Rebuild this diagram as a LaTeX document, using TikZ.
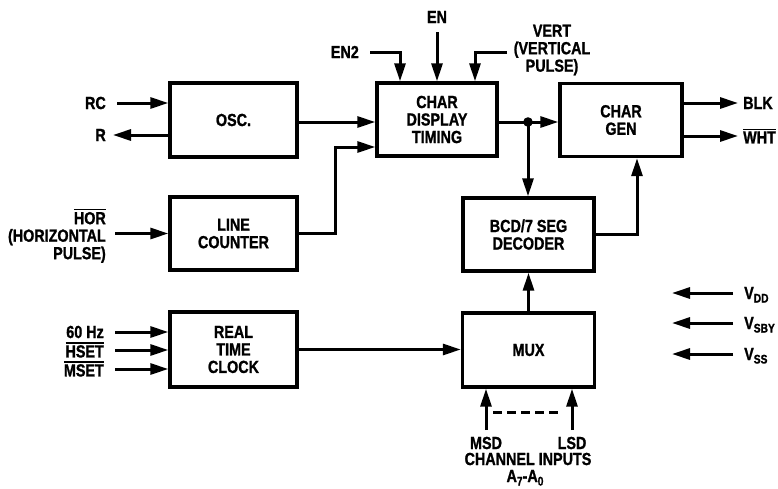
\documentclass[tikz,border=0pt]{standalone}
\usepackage{fontspec}
\newfontfamily\dfont{Liberation Sans}[FakeStretch=0.82,FakeBold=1.2]
\usetikzlibrary{arrows.meta}
\newcommand\ovl[1]{\leavevmode\setbox0\hbox{#1}\rlap{\rule[\dimexpr\ht0+1.6pt\relax]{\wd0}{1.2pt}}\box0}
\newcommand\lowsub[1]{\raisebox{-3.5pt}{\fontsize{12.5}{12.5}\selectfont #1}}
\begin{document}
\begin{tikzpicture}[x=1pt,y=-1pt,
  blk/.style={draw, line width=3.4pt, inner sep=0pt, align=center,
    font=\dfont\bfseries\fontsize{17.5}{17.5}\selectfont},
  lbl/.style={inner sep=0pt, font=\dfont\bfseries\fontsize{17.5}{17.5}\selectfont},
  arr/.style={line width=3pt, -{Triangle[length=18pt,width=11pt]}},
  ln/.style={line width=3pt},
  dsh/.style={line width=3pt, dash pattern=on 9pt off 5pt}]
\useasboundingbox (0,0) rectangle (778,488);

% boxes
\node[blk, minimum width=127pt, minimum height=74pt] (osc) at (233.5,120) {OSC.};
\node[blk, minimum width=127pt, minimum height=73pt] (lc) at (233.5,233.5) {LINE\\COUNTER};
\node[blk, minimum width=127pt, minimum height=75pt] (rtc) at (233.5,349.5) {REAL\\TIME\\CLOCK};
\node[blk, minimum width=120pt, minimum height=73pt] (cdt) at (437,119.5) {CHAR\\DISPLAY\\TIMING};
\node[blk, minimum width=122pt, minimum height=73pt] (cg) at (621,120) {CHAR\\GEN};
\node[blk, minimum width=131pt, minimum height=73pt] (bcd) at (528.5,234.5) {BCD/7 SEG\\DECODER};
\node[blk, minimum width=132pt, minimum height=74pt] (mux) at (528.5,350) {MUX};

% left inputs
\node[lbl, anchor=east] (rcL) at (106,103) {RC};
\draw[arr] ([xshift=11]rcL.east) -- (rcL.east -| osc.west);
\node[lbl, anchor=east] (rL) at (106,135) {R};
\draw[arr] (rL.east -| osc.west) -- ([xshift=7]rL.east);

\node[lbl, anchor=east, align=right] (horL) at (106,236) {\ovl{HOR}\\(HORIZONTAL\\PULSE)};
\draw[arr] ([xshift=9]horL.east |- lc.west) -- (lc.west);

\node[lbl, anchor=east] (hzL) at (104,332) {60 Hz};
\node[lbl, anchor=east] (hsL) at (104,350) {\ovl{HSET}};
\node[lbl, anchor=east] (msL) at (104,369) {\ovl{MSET}};
\draw[arr] ([xshift=11]hzL.east) -- (hzL.east -| rtc.west);
\draw[arr] ([xshift=11]hsL.east) -- (hsL.east -| rtc.west);
\draw[arr] ([xshift=11]msL.east) -- (msL.east -| rtc.west);

% internal connections
\draw[arr] ([yshift=-2]osc.east) -- ([yshift=-2]osc.east -| cdt.west);
\coordinate (lcbend) at (335,233.5);
\draw[arr] (lc.east) -- (lcbend) |- ([yshift=-27.5]cdt.west);
\draw[arr] (rtc.east) -- (rtc.east -| mux.west);

\coordinate (jn) at (528,122);
\draw[arr] (jn -| cdt.east) -- (jn -| cg.west);
\fill (jn) circle (4.8pt);
\draw[arr] (jn) -- (jn |- bcd.north);
\draw[arr] (mux.north) -- (bcd.south);
\draw[arr] (bcd.east) -| ([xshift=16]cg.south);

% top inputs
\node[lbl] (enL) at (437,17) {EN};
\node[lbl, anchor=east] (en2L) at (359,52) {EN2};
\node[lbl, align=center] (vertL) at (552,50) {VERT\\(VERTICAL\\PULSE)};
\coordinate (enS) at (437,32);
\coordinate (en2S) at (370,52);
\coordinate (vertS) at (507,52);
\draw[arr] (enS) -- (cdt.north);
\draw[arr] (en2S) -| ([xshift=-37]cdt.north);
\draw[arr] (vertS) -| ([xshift=38]cdt.north);

% outputs
\coordinate (blkE) at (738,103);
\coordinate (whtE) at (738,136);
\draw[arr] (blkE -| cg.east) -- (blkE);
\draw[arr] (whtE -| cg.east) -- (whtE);
\node[lbl, anchor=west] (blkL) at (743,103) {BLK};
\node[lbl, anchor=west] (whtL) at (743,136) {\ovl{WHT}};

% supplies
\coordinate (vddS) at (733,293);
\coordinate (vddT) at (672,293);
\coordinate (vsbS) at (733,323);
\coordinate (vsbT) at (672,323);
\coordinate (vssS) at (733,354);
\coordinate (vssT) at (672,354);
\draw[arr] (vddS) -- (vddT);
\draw[arr] (vsbS) -- (vsbT);
\draw[arr] (vssS) -- (vssT);
\node[lbl, anchor=base west] (vddL) at (744,299) {V\lowsub{DD}};
\node[lbl, anchor=base west] (vsbL) at (744,329) {V\lowsub{SBY}};
\node[lbl, anchor=base west] (vssL) at (744,360) {V\lowsub{SS}};

% mux inputs
\coordinate (msdS) at (486,430);
\coordinate (lsdS) at (572,430);
\draw[arr] (msdS) -- (msdS |- mux.south);
\draw[arr] (lsdS) -- (lsdS |- mux.south);
\draw[dsh] ([xshift=7,yshift=18]msdS) -- ([xshift=-10,yshift=18]lsdS);
\node[lbl] (msdL) at (486,443) {MSD};
\node[lbl] (lsdL) at (572,443) {LSD};
\node[lbl] (chL) at (528,459) {CHANNEL INPUTS};
\node[lbl, anchor=base] (aL) at (525,482) {A\lowsub{7}-A\lowsub{0}};
\end{tikzpicture}
\end{document}
